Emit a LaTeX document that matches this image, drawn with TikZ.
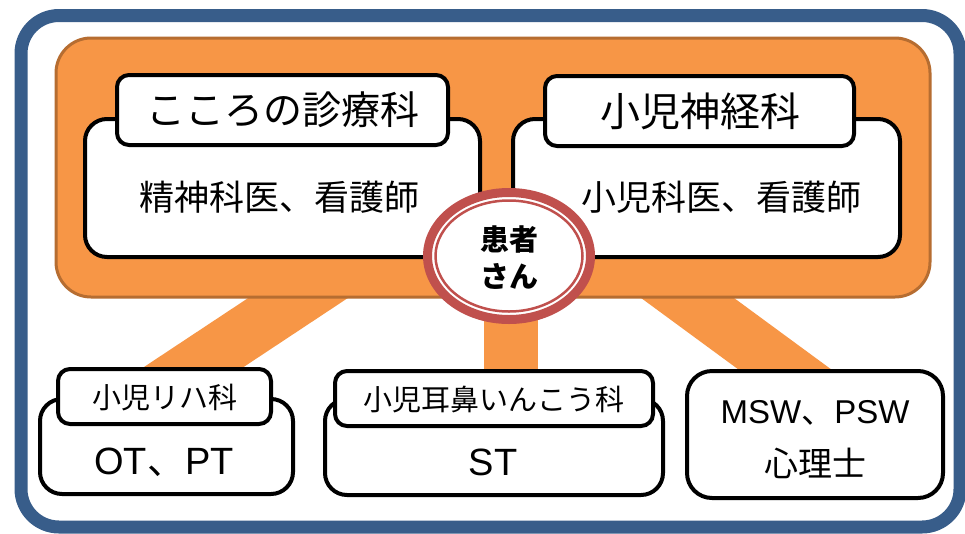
\documentclass[tikz,border=0pt]{standalone}
\usepackage{fontspec}
\usetikzlibrary{shapes.geometric}
\newfontfamily\jp{Noto Sans CJK JP}
\newfontfamily\lat{Liberation Sans}
\definecolor{frameblue}{HTML}{385D8A}
\definecolor{orfill}{HTML}{F79646}
\definecolor{ordraw}{HTML}{B66D31}
\definecolor{redring}{HTML}{C0504D}
\tikzset{
  band/.style={orfill, line width=55pt, line cap=butt},
  bodybox/.style={draw=black, fill=white, line width=4pt, rounded corners=22pt, inner sep=0pt},
  tabbox/.style={draw=black, fill=white, line width=4pt, rounded corners=12pt, inner sep=0pt},
  txt/.style={inner sep=0pt, text=black},
}
\begin{document}
\begin{tikzpicture}[x=1pt,y=-1pt]
\useasboundingbox (0,0) rectangle (965,533);
% outer frame
\draw[frameblue, line width=13pt, fill=white, rounded corners=38pt] (21,15.5) rectangle (960,527);
% connector bands
\coordinate (lbA) at (363,255);
\coordinate (lbB) at (150,396);
\coordinate (rbA) at (629,255);
\coordinate (rbB) at (821,396);
\coordinate (mbA) at (511,290);
\coordinate (mbB) at (511,390);
\draw[band] (lbA) -- (lbB);
\draw[band] (rbA) -- (rbB);
\draw[orfill, line width=54pt] (mbA) -- (mbB);
% orange box
\node[draw=ordraw, fill=orfill, line width=3pt, rounded corners=35pt, minimum width=874pt, minimum height=259pt, inner sep=0pt] (team) at (493,167.5) {};
% top left
\node[bodybox, minimum width=395pt, minimum height=138pt] (klbody) at (282.5,188) {};
\node[tabbox, minimum width=331pt, minimum height=70pt] (kltab) at (282.5,110) {};
\node[txt, font=\jp\fontsize{39}{44}\selectfont] (kltitle) at (282.5,110) {こころの診療科};
\node[txt, font=\jp\fontsize{35}{40}\selectfont] (kltext) at (279,197) {精神科医、看護師};
% top right
\node[bodybox, minimum width=387pt, minimum height=138pt] (krbody) at (706.5,188) {};
\node[tabbox, minimum width=309pt, minimum height=70pt] (krtab) at (699.5,111) {};
\node[txt, font=\jp\fontsize{40}{44}\selectfont] (krtitle) at (700,111) {小児神経科};
\node[txt, font=\jp\fontsize{35}{40}\selectfont] (krtext) at (721,197) {小児科医、看護師};
% patient
\draw[redring, line width=9pt, fill=white] (509,256) ellipse [x radius=81.5pt, y radius=63.5pt];
\node[draw=redring, line width=2.5pt, ellipse, minimum width=147pt, minimum height=111pt, inner sep=0pt] (pt) at (509,256) {};
\node[txt, align=center, font=\jp\bfseries\fontsize{29}{37}\selectfont] (pttext) at (509,258) {患者\\さん};
% bottom left
\node[bodybox, minimum width=253pt, minimum height=95pt] (blbody) at (166.5,446.5) {};
\node[tabbox, minimum width=213pt, minimum height=55pt] (bltab) at (164.5,396.5) {};
\node[txt, font=\jp\fontsize{29}{34}\selectfont] (bltitle) at (164.5,398) {小児リハ科};
\node[txt, font=\lat\fontsize{38}{42}\selectfont] (bltext) at (164,462) {OT{\jp 、}PT};
% bottom middle
\node[bodybox, minimum width=338pt, minimum height=96pt] (bmbody) at (494,447) {};
\node[tabbox, minimum width=318pt, minimum height=55pt] (bmtab) at (494,398.5) {};
\node[txt, font=\jp\fontsize{29}{34}\selectfont] (bmtitle) at (494,400) {小児耳鼻いんこう科};
\node[txt, font=\lat\fontsize{38}{42}\selectfont] (bmtext) at (493,462) {ST};
% bottom right
\node[bodybox, rounded corners=25pt, minimum width=256pt, minimum height=127pt] (brbox) at (815,434.5) {};
\node[txt, font=\lat\fontsize{33}{38}\selectfont] (brtext1) at (815,413) {MSW{\jp 、}PSW};
\node[txt, font=\jp\fontsize{34}{38}\selectfont] (brtext2) at (815,463) {心理士};
\end{tikzpicture}
\end{document}
